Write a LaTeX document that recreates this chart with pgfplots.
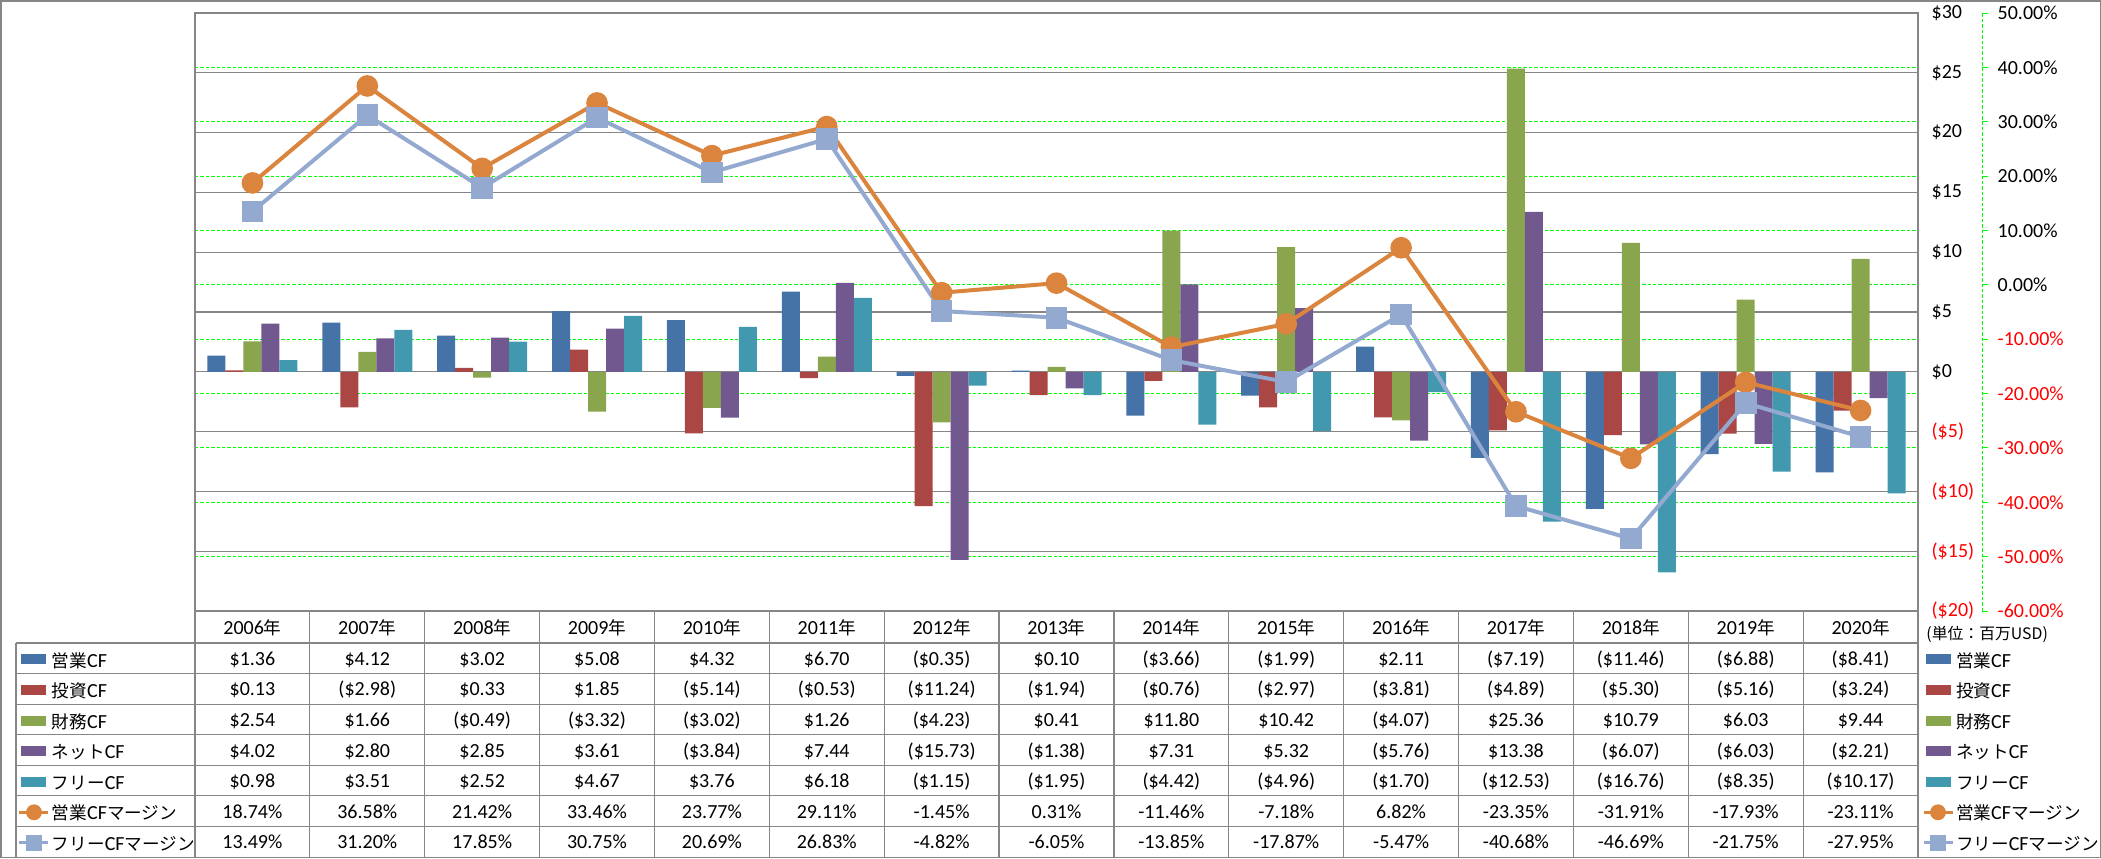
\documentclass[border=0pt]{standalone}
\usepackage{fontspec}
\setmainfont{Carlito}
\newfontfamily\jp{Noto Sans CJK JP}[Scale=0.88]
\usepackage{pgfplots}
\pgfplotsset{compat=1.18}
\usepackage{pgfplotstable}

\definecolor{cOp}{HTML}{4572A7}
\definecolor{cInv}{HTML}{AA4643}
\definecolor{cFin}{HTML}{89A54E}
\definecolor{cNet}{HTML}{71588F}
\definecolor{cFree}{HTML}{4198AF}
\definecolor{cOpm}{HTML}{DB843D}
\definecolor{cFrm}{HTML}{93A9CF}
\definecolor{gridgray}{HTML}{868686}
\definecolor{ggreen}{HTML}{00FF00}
\definecolor{tred}{HTML}{FF0000}

\pgfplotstableread{
x op inv fin net free opm frm
0 1.36 0.13 2.54 4.02 0.98 18.74 13.49
1 4.12 -2.98 1.66 2.80 3.51 36.58 31.20
2 3.02 0.33 -0.49 2.85 2.52 21.42 17.85
3 5.08 1.85 -3.32 3.61 4.67 33.46 30.75
4 4.32 -5.14 -3.02 -3.84 3.76 23.77 20.69
5 6.70 -0.53 1.26 7.44 6.18 29.11 26.83
6 -0.35 -11.24 -4.23 -15.73 -1.15 -1.45 -4.82
7 0.10 -1.94 0.41 -1.38 -1.95 0.31 -6.05
8 -3.66 -0.76 11.80 7.31 -4.42 -11.46 -13.85
9 -1.99 -2.97 10.42 5.32 -4.96 -7.18 -17.87
10 2.11 -3.81 -4.07 -5.76 -1.70 6.82 -5.47
11 -7.19 -4.89 25.36 13.38 -12.53 -23.35 -40.68
12 -11.46 -5.30 10.79 -6.07 -16.76 -31.91 -46.69
13 -6.88 -5.16 6.03 -6.03 -8.35 -17.93 -21.75
14 -8.41 -3.24 9.44 -2.21 -10.17 -23.11 -27.95
}\cfdata

\pgfplotsset{
  plotgeom/.style={at={(97.5pt,-6.5pt)}, anchor=north west, scale only axis,
    width=861.5pt, height=299pt, xmin=-0.5, xmax=14.5},
  barkey/.style={legend image code/.code={\fill[##1] (-6.25pt,-1.7pt) rectangle (6.25pt,3.3pt);}},
  linekey/.style={legend image code/.code={\draw[mark repeat=2,mark phase=2,##1] plot coordinates {(-7.25pt,0.8pt) (0pt,0.8pt) (7.25pt,0.8pt)};}},
  tablelegend/.style={hide axis, scale only axis, width=80pt, height=10pt,
    xmin=0, xmax=1, ymin=0, ymax=1, anchor=north west, legend cell align=left,
    legend style={at={(0,1)}, anchor=north west, draw=none, fill=none,
      inner sep=0pt, outer sep=0pt, row sep=5.29pt, column sep=1pt,
      nodes={inner sep=0pt, outer sep=0pt, text height=8pt, text depth=2pt}}},
}

\newcommand\trow[2]{%
  \foreach \v [count=\i from 0] in {#2} {%
    \node[inner sep=0pt, anchor=base] at ({195+(\i+0.5)*114.867},{#1+7}) {\v};}}

\begin{document}
\begin{tikzpicture}
\path[use as bounding box] (0,0) rectangle (1050.5pt,-429pt);

% green secondary grid (behind everything)
\begin{axis}[plotgeom, ymin=-60, ymax=50, ytick={-50,-40,...,40}, yticklabels={},
  xtick=\empty, ymajorgrids, axis line style={draw=none}, major tick length=0pt,
  major grid style={ggreen, line width=0.5pt, dash pattern=on 1.7pt off 1pt}]
\end{axis}

% bars on primary axis
\begin{axis}[plotgeom, ymin=-20, ymax=30, ytick={-20,-15,...,30},
  yticklabels={{\color{tred}(\$20)},{\color{tred}(\$15)},{\color{tred}(\$10)},{\color{tred}(\$5)},\$0,\$5,\$10,\$15,\$20,\$25,\$30},
  yticklabel pos=right, yticklabel style={anchor=west, xshift=3.3pt},
  xtick=\empty, ymajorgrids, major grid style={gridgray, line width=0.6pt},
  axis line style={gridgray, line width=0.6pt}, major tick length=0pt,
  ybar, bar width=9pt]
\addplot[fill=cOp, draw=none, bar shift=-18pt] table[x=x,y=op]{\cfdata};
\addplot[fill=cInv, draw=none, bar shift=-9pt] table[x=x,y=inv]{\cfdata};
\addplot[fill=cFin, draw=none, bar shift=0pt] table[x=x,y=fin]{\cfdata};
\addplot[fill=cNet, draw=none, bar shift=9pt] table[x=x,y=net]{\cfdata};
\addplot[fill=cFree, draw=none, bar shift=18pt] table[x=x,y=free]{\cfdata};
\end{axis}

% margin lines on secondary axis
\begin{axis}[plotgeom, ymin=-60, ymax=50, hide axis]
\addplot[cOpm, line width=2pt, mark=*, mark size=4.4pt] table[x=x,y=opm]{\cfdata};
\addplot[cFrm, line width=2pt, mark=square*, mark size=4.4pt] table[x=x,y=frm]{\cfdata};
\end{axis}

% green secondary axis line with labels
\begin{axis}[at={(991pt,-6.5pt)}, anchor=north east, scale only axis, width=5pt, height=299pt,
  xmin=0, xmax=1, ymin=-60, ymax=50, ytick={-60,-50,...,50},
  yticklabels={{\color{tred}-60.00\%},{\color{tred}-50.00\%},{\color{tred}-40.00\%},{\color{tred}-30.00\%},{\color{tred}-20.00\%},{\color{tred}-10.00\%},0.00\%,10.00\%,20.00\%,30.00\%,40.00\%,50.00\%},
  axis y line*=right, hide x axis,
  y axis line style={ggreen, line width=0.5pt, dash pattern=on 1.7pt off 1pt},
  ytick style={ggreen, line width=0.5pt}, major tick length=3pt, tick align=outside,
  yticklabel style={anchor=west, xshift=1.3pt}]
\end{axis}

% left table legend
\begin{axis}[tablelegend, at={(9pt,-325.5pt)}]
\addlegendimage{barkey, fill=cOp, draw=none}\addlegendentry{{\jp 営業}CF}
\addlegendimage{barkey, fill=cInv, draw=none}\addlegendentry{{\jp 投資}CF}
\addlegendimage{barkey, fill=cFin, draw=none}\addlegendentry{{\jp 財務}CF}
\addlegendimage{barkey, fill=cNet, draw=none}\addlegendentry{{\jp ネット}CF}
\addlegendimage{barkey, fill=cFree, draw=none}\addlegendentry{{\jp フリー}CF}
\addlegendimage{linekey, cOpm, line width=1.5pt, mark=*, mark size=3.2pt}\addlegendentry{{\jp 営業}CF{\jp マージン}}
\addlegendimage{linekey, cFrm, line width=1.5pt, mark=square*, mark size=3.2pt}\addlegendentry{{\jp フリー}CF{\jp マージン}}
\end{axis}

% right table legend
\begin{axis}[tablelegend, at={(961pt,-325.5pt)}]
\addlegendimage{barkey, fill=cOp, draw=none}\addlegendentry{{\jp 営業}CF}
\addlegendimage{barkey, fill=cInv, draw=none}\addlegendentry{{\jp 投資}CF}
\addlegendimage{barkey, fill=cFin, draw=none}\addlegendentry{{\jp 財務}CF}
\addlegendimage{barkey, fill=cNet, draw=none}\addlegendentry{{\jp ネット}CF}
\addlegendimage{barkey, fill=cFree, draw=none}\addlegendentry{{\jp フリー}CF}
\addlegendimage{linekey, cOpm, line width=1.5pt, mark=*, mark size=3.2pt}\addlegendentry{{\jp 営業}CF{\jp マージン}}
\addlegendimage{linekey, cFrm, line width=1.5pt, mark=square*, mark size=3.2pt}\addlegendentry{{\jp フリー}CF{\jp マージン}}
\end{axis}

\begin{scope}[x=0.5pt, y=-0.5pt]
  \draw[gridgray, line width=0.75pt] (0.75,0.75) rectangle (2100.25,857.25);
  \foreach \r in {0,...,6} {\draw[gridgray, line width=0.6pt] (16,{643+\r*30.571}) -- (1918,{643+\r*30.571});}
  \draw[gridgray, line width=0.6pt] (16,643) -- (16,857);
  \foreach \k in {0,...,15} {\draw[gridgray, line width=0.6pt] ({195+\k*114.867},611) -- ({195+\k*114.867},857);}
  \foreach \i in {0,...,14} {\pgfmathtruncatemacro\yr{2006+\i}%
    \node[inner sep=0pt, anchor=base] at ({195+(\i+0.5)*114.867},634) {\yr{\jp 年}};}
  \trow{658.3}{\$1.36,\$4.12,\$3.02,\$5.08,\$4.32,\$6.70,(\$0.35),\$0.10,(\$3.66),(\$1.99),\$2.11,(\$7.19),(\$11.46),(\$6.88),(\$8.41)}
  \trow{688.9}{\$0.13,(\$2.98),\$0.33,\$1.85,(\$5.14),(\$0.53),(\$11.24),(\$1.94),(\$0.76),(\$2.97),(\$3.81),(\$4.89),(\$5.30),(\$5.16),(\$3.24)}
  \trow{719.4}{\$2.54,\$1.66,(\$0.49),(\$3.32),(\$3.02),\$1.26,(\$4.23),\$0.41,\$11.80,\$10.42,(\$4.07),\$25.36,\$10.79,\$6.03,\$9.44}
  \trow{750.0}{\$4.02,\$2.80,\$2.85,\$3.61,(\$3.84),\$7.44,(\$15.73),(\$1.38),\$7.31,\$5.32,(\$5.76),\$13.38,(\$6.07),(\$6.03),(\$2.21)}
  \trow{780.6}{\$0.98,\$3.51,\$2.52,\$4.67,\$3.76,\$6.18,(\$1.15),(\$1.95),(\$4.42),(\$4.96),(\$1.70),(\$12.53),(\$16.76),(\$8.35),(\$10.17)}
  \trow{811.1}{18.74\%,36.58\%,21.42\%,33.46\%,23.77\%,29.11\%,-1.45\%,0.31\%,-11.46\%,-7.18\%,6.82\%,-23.35\%,-31.91\%,-17.93\%,-23.11\%}
  \trow{841.7}{13.49\%,31.20\%,17.85\%,30.75\%,20.69\%,26.83\%,-4.82\%,-6.05\%,-13.85\%,-17.87\%,-5.47\%,-40.68\%,-46.69\%,-21.75\%,-27.95\%}
  \node[anchor=west, inner sep=0pt, font=\small] at (1926,634) {\jp (単位：百万USD)};
\end{scope}
\end{tikzpicture}
\end{document}
